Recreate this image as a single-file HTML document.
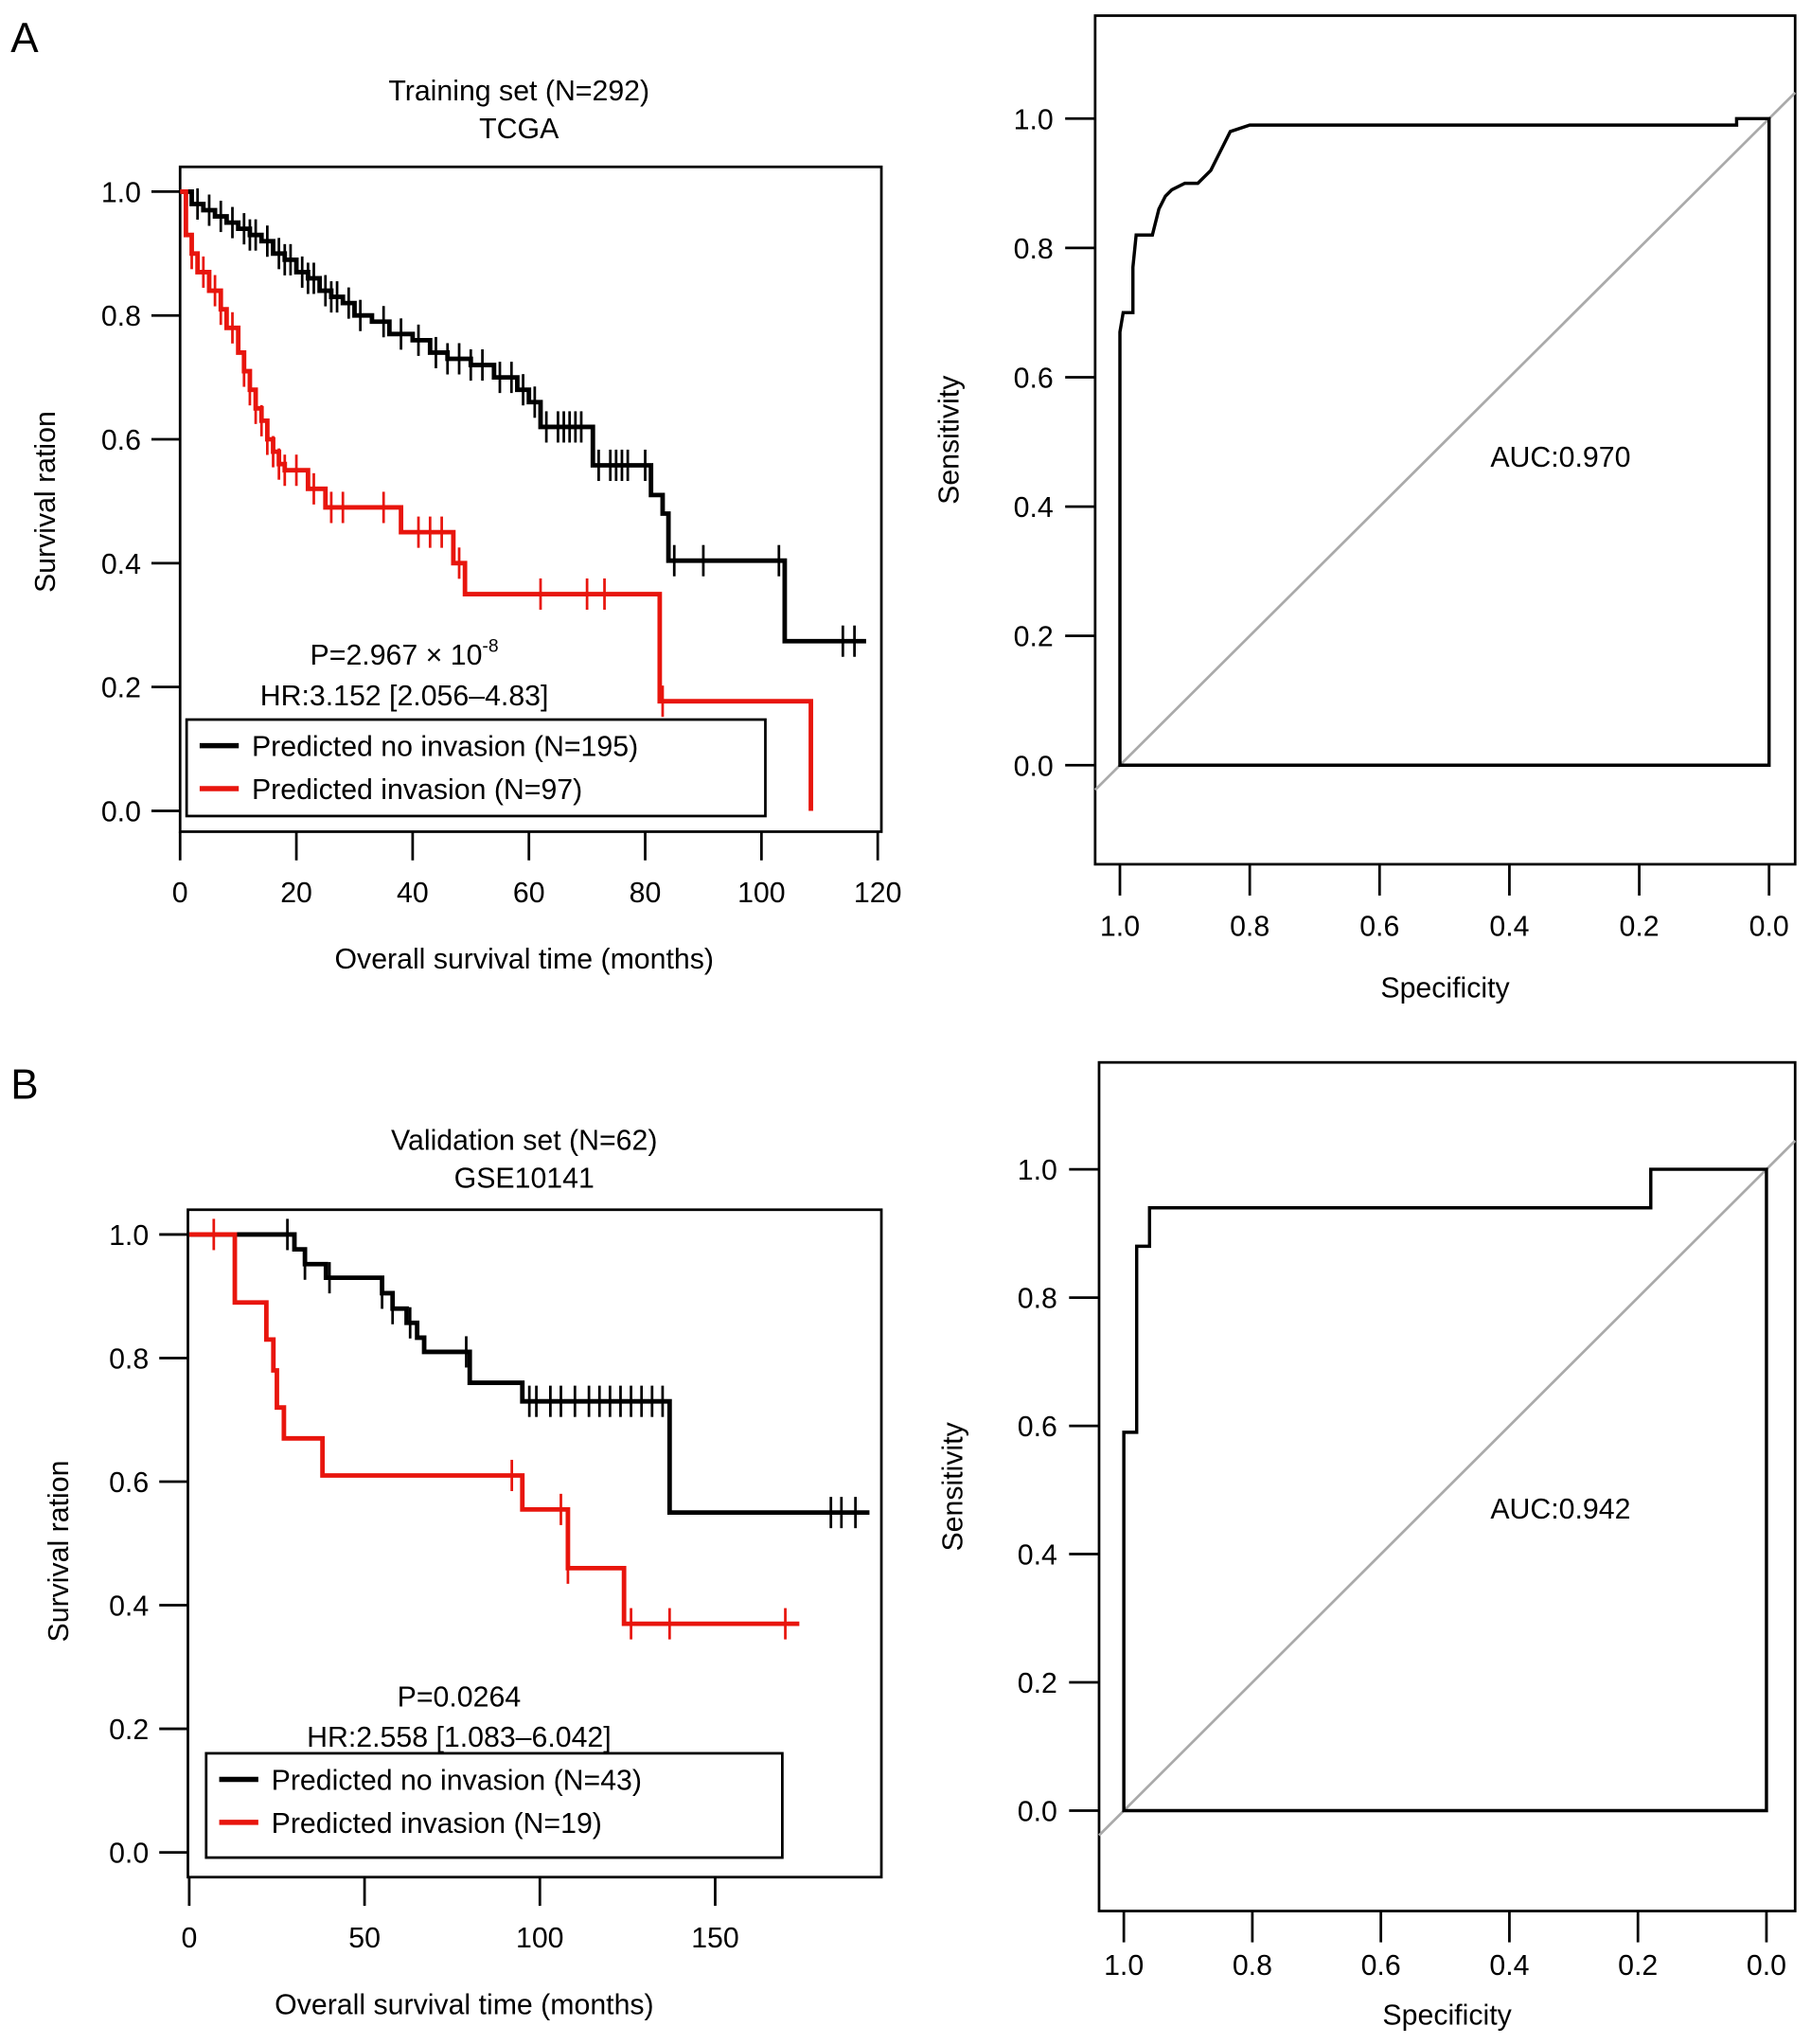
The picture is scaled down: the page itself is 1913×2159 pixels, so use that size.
<!DOCTYPE html>
<html><head><meta charset="utf-8"><style>
html,body{margin:0;padding:0;background:#fff}
svg{display:block;font-family:"Liberation Sans",Arial,sans-serif}
</style></head><body>
<svg id="fig" xmlns="http://www.w3.org/2000/svg" width="1913" height="2159" viewBox="0 0 1389 1568">
<rect width="1389" height="1568" fill="#fff"/>
<text x="8" y="40" font-size="32">A</text>
<text x="8" y="843" font-size="32">B</text>
<g id="g"></g>
</svg>
<script>
// ---- Data ----
const kmA_black_t = [0,2,4,6,8,10,12,14,16,18,20,22,24,26,28,30,33,36,40,43,46,50,54,58,60,62,71,81,83,84,104,118];
const kmA_black_s = [1.0,0.98,0.97,0.96,0.95,0.94,0.93,0.92,0.90,0.89,0.87,0.86,0.84,0.83,0.82,0.80,0.79,0.77,0.76,0.74,0.73,0.72,0.70,0.68,0.66,0.62,0.558,0.51,0.48,0.404,0.274,0.274];
const kmA_black_cens = [3,5,7,9,11,12,13,15,17,18,19,21,22,23,25,26,27,29,31,35,38,41,44,46,48,50,52,55,57,59,61,63,65,66,67,68,69,72,74,75,76,77,80,85,90,103,114,116];
const kmA_red_t = [0,1,2,3,5,7,8,10,11,12,13,14,15,16,17,18,22,25,38,47,49,82.5,108.5];
const kmA_red_s = [1.0,0.93,0.90,0.87,0.84,0.81,0.78,0.74,0.71,0.68,0.65,0.63,0.60,0.58,0.56,0.55,0.52,0.49,0.45,0.40,0.35,0.177,0.0];
const kmA_red_cens = [2,4,6,7,9,11,12,13,14,15,16,17,18,20,23,26,28,35,41,43,45,48,62,70,73,83];
const kmB_black_t = [0,30,33,39,55,58,62,65,67,80,95,137,194];
const kmB_black_s = [1.0,0.976,0.952,0.93,0.905,0.88,0.857,0.833,0.81,0.76,0.73,0.55,0.55];
const kmB_black_cens = [28,33,40,55,58,63,79,97,99,103,106,110,114,117,120,123,126,129,132,135,183,186,190];
const kmB_red_t = [0,13,22,24,25,27,38,95,108,124,174];
const kmB_red_s = [1.0,0.89,0.83,0.78,0.72,0.67,0.61,0.555,0.46,0.37,0.37];
const kmB_red_cens = [7,92,106,108,126,137,170];
const rocA_spec = [1,1,0.995,0.98,0.98,0.975,0.95,0.94,0.93,0.92,0.90,0.88,0.86,0.85,0.84,0.83,0.80,0.05,0.05,0];
const rocA_sens = [0,0.67,0.70,0.70,0.77,0.82,0.82,0.86,0.88,0.89,0.90,0.90,0.92,0.94,0.96,0.98,0.99,0.99,1.0,1.0];
const rocB_spec = [1,1,0.98,0.98,0.96,0.96,0.18,0.18,0];
const rocB_sens = [0,0.59,0.59,0.88,0.88,0.94,0.94,1.0,1.0];
const kmA_xticks = [0,20,40,60,80,100,120];
const kmB_xticks = [0,50,100,150];
const km_yticks = ["0.0","0.2","0.4","0.6","0.8","1.0"];
const roc_ticks = ["1.0","0.8","0.6","0.4","0.2","0.0"];

const NS="http://www.w3.org/2000/svg";
const G=document.getElementById('g');
function el(tag,attrs,parent,text){const e=document.createElementNS(NS,tag);for(const k in attrs)e.setAttribute(k,attrs[k]);(parent||G).appendChild(e);if(text!==undefined)e.textContent=text;return e;}
function txt(x,y,s,size,anchor,name,rot){const t=el('text',{x:x,y:y,'font-size':size,'text-anchor':anchor||'middle'},G,s);if(rot)t.setAttribute('transform',`rotate(-90 ${x} ${y})`);


return t;}
function stepPath(ts,ss,X,Y){let d=`M${X(ts[0])},${Y(ss[0])}`;for(let i=1;i<ts.length;i++){d+=` H${X(ts[i])} V${Y(ss[i])}`;}return d;}
function stepVal(ts,ss,t){let v=ss[0];for(let i=0;i<ts.length;i++){if(ts[i]<=t)v=ss[i];}return v;}

function km(cfg){
  const X=t=>cfg.x0+t*cfg.xs, Y=v=>cfg.y0-v*cfg.ys;
  const b=el('rect',{x:cfg.bx0,y:cfg.by0,width:cfg.bx1-cfg.bx0,height:cfg.by1-cfg.by0,fill:'none',stroke:'#000','stroke-width':2});
  
  
  km_yticks.forEach(l=>{const v=parseFloat(l);const tk=el('line',{x1:cfg.bx0-22,x2:cfg.bx0,y1:Y(v),y2:Y(v),stroke:'#000','stroke-width':2});
    
    
    txt(cfg.bx0-30,Y(v)+8,l,22,'end','y-tick-label');});
  cfg.xticks.forEach(t=>{const tk=el('line',{x1:X(t),x2:X(t),y1:cfg.by1,y2:cfg.by1+22,stroke:'#000','stroke-width':2});
    
    
    txt(X(t),cfg.by1+54,String(t),22,'middle','x-tick-label');});
  const series=[[cfg.bt,cfg.bs,cfg.bc,'#000','no-invasion'],[cfg.rt,cfg.rs,cfg.rc,'#e8150d','invasion']];
  series.forEach(([ts,ss,cs,col,nm])=>{
    const p=el('path',{d:stepPath(ts,ss,X,Y),fill:'none',stroke:col,'stroke-width':3.5});
    
    
    cs.forEach(t=>{const v=stepVal(ts,ss,t);const c=el('line',{x1:X(t),x2:X(t),y1:Y(v)-12,y2:Y(v)+12,stroke:col,'stroke-width':2});
      
      });
  });
  txt(cfg.tx,cfg.ty1,cfg.title1,22,'middle','chart-title');
  txt(cfg.tx,cfg.ty1+29,cfg.title2,22,'middle','chart-subtitle');
  txt(cfg.ytx,cfg.yty,'Survival ration',22,'middle','y-axis-title',true);
  txt(cfg.xtx,cfg.by1+105,'Overall survival time (months)',22,'middle','x-axis-title');
  const pt=txt(cfg.px,cfg.py,cfg.ptext,22,'middle','p-value');
  if(cfg.sup){const s=el('tspan',{'font-size':14,dy:-10},pt,cfg.sup);}
  txt(cfg.hx,cfg.py+31,cfg.hr,22,'middle','hazard-ratio');
  const lg=el('rect',{x:cfg.lx0,y:cfg.ly0,width:cfg.lx1-cfg.lx0,height:cfg.ly1-cfg.ly0,fill:'#fff',stroke:'#000','stroke-width':2});
  
  
  [[cfg.l1,'#000',cfg.ly0+20],[cfg.l2,'#e8150d',cfg.ly0+53]].forEach(([s,col,y])=>{
    const l=el('line',{x1:cfg.lx0+10,x2:cfg.lx0+40,y1:y,y2:y,stroke:col,'stroke-width':4});
    
    
    txt(cfg.lx0+50,y+8,s,22,'start','legend-entry');});
}
function roc(cfg){
  const X=s=>cfg.x1+(cfg.x0-cfg.x1)*s, Y=v=>cfg.y0-v*cfg.ys;
  const fr=el('rect',{x:cfg.bx0,y:cfg.by0,width:cfg.bx1-cfg.bx0,height:cfg.by1-cfg.by0,fill:'none',stroke:'#000','stroke-width':2});
  
  
  const sx0=(cfg.x1-cfg.bx0)/(cfg.x1-cfg.x0), sx1=(cfg.x1-cfg.bx1)/(cfg.x1-cfg.x0);
  const dg=el('line',{x1:X(sx0),y1:Y(1-sx0),x2:X(sx1),y2:Y(1-sx1),stroke:'#aaa','stroke-width':2});
  
  
  let d=cfg.spec.map((s,i)=>(i?'L':'M')+X(s)+','+Y(cfg.sens[i])).join(' ');
  d+=` L${X(0)},${Y(0)} Z`;
  const p=el('path',{d:d,fill:'none',stroke:'#000','stroke-width':2.5});
  
  
  roc_ticks.forEach(l=>{const v=parseFloat(l);
    const t1=el('line',{x1:cfg.bx0-23,x2:cfg.bx0,y1:Y(v),y2:Y(v),stroke:'#000','stroke-width':2});
    
    
    txt(cfg.bx0-32,Y(v)+8,l,22,'end','y-tick-label');
    const t2=el('line',{x1:X(v),x2:X(v),y1:cfg.by1,y2:cfg.by1+24,stroke:'#000','stroke-width':2});
    
    
    txt(X(v),cfg.by1+cfg.lo,l,22,'middle','x-tick-label');});
  txt(cfg.bx0-105,(cfg.by0+cfg.by1)/2,'Sensitivity',22,'middle','y-axis-title',true);
  txt((cfg.bx0+cfg.bx1)/2,cfg.by1+cfg.to,'Specificity',22,'middle','x-axis-title');
  txt(1197,cfg.aucy,cfg.auc,22,'middle','auc-label');
}
km({name:'km-a',x0:138,xs:4.46,y0:622,ys:475,bx0:138,bx1:676,by0:128,by1:638,xticks:kmA_xticks,
 bt:kmA_black_t,bs:kmA_black_s,bc:kmA_black_cens,rt:kmA_red_t,rs:kmA_red_s,rc:kmA_red_cens,
 tx:398,ty1:77,title1:'Training set (N=292)',title2:'TCGA',ytx:42,yty:385,xtx:402,
 px:310,py:510,ptext:'P=2.967 × 10',sup:'-8',hx:310,hr:'HR:3.152 [2.056–4.83]',
 lx0:143,lx1:587,ly0:552,ly1:626,l1:'Predicted no invasion (N=195)',l2:'Predicted invasion (N=97)'});
km({name:'km-b',x0:145,xs:2.69,y0:1421,ys:474,bx0:144,bx1:676,by0:928,by1:1440,xticks:kmB_xticks,
 bt:kmB_black_t,bs:kmB_black_s,bc:kmB_black_cens,rt:kmB_red_t,rs:kmB_red_s,rc:kmB_red_cens,
 tx:402,ty1:882,title1:'Validation set (N=62)',title2:'GSE10141',ytx:52,yty:1190,xtx:356,
 px:352,py:1309,ptext:'P=0.0264',sup:'',hx:352,hr:'HR:2.558 [1.083–6.042]',
 lx0:158,lx1:600,ly0:1345,ly1:1425,l1:'Predicted no invasion (N=43)',l2:'Predicted invasion (N=19)'});
roc({name:'roc-a',x0:859,x1:1357,y0:587,ys:496,bx0:840,bx1:1377,by0:12,by1:663,spec:rocA_spec,sens:rocA_sens,auc:'AUC:0.970',aucy:358,lo:55,to:102});
roc({name:'roc-b',x0:862,x1:1355,y0:1389,ys:492,bx0:843,bx1:1377,by0:815,by1:1466,spec:rocB_spec,sens:rocB_sens,auc:'AUC:0.942',aucy:1165,lo:49,to:87});
</script>
</body></html>
